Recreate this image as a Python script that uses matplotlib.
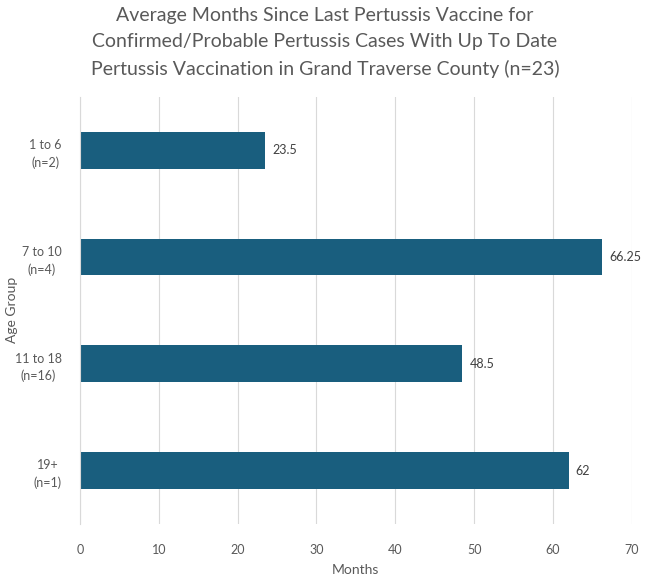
import matplotlib
matplotlib.use('Agg')
import matplotlib.pyplot as plt

# Data
groupes = ['1 to 6\n(n=2)', '7 to 10\n(n=4)', '11 to 18\n(n=16)', '19+\n(n=1)']
mois = [23.5, 66.25, 48.5, 62]
etiquettes = ['23.5', '66.25', '48.5', '62']
ticks_x = [0, 10, 20, 30, 40, 50, 60, 70]

bar_color = '#195E7E'
text_color = '#595959'
grid_color = '#D9D9D9'

plt.rcParams['font.family'] = ['Lato', 'DejaVu Sans']

fig = plt.figure(figsize=(6.5, 5.76), dpi=100)
ax = fig.add_axes([0.123, 0.09, 0.849, 0.742])

y = list(range(len(groupes)))
ax.barh(y, mois, height=0.345, color=bar_color, zorder=3)

for yi, v, lab in zip(y, mois, etiquettes):
    ax.text(v + 0.9, yi, lab, va='center', ha='left', fontsize=9, color='#404040')

ax.set_ylim(3.5, -0.5)
ax.set_xlim(0, 70)
ax.set_xticks(ticks_x)
ax.set_yticks(y)
ax.set_yticklabels(groupes, fontsize=9, color=text_color, ha='right')
ax.tick_params(axis='x', length=0, labelsize=9, labelcolor=text_color, pad=14)
ax.tick_params(axis='y', length=0, pad=13)
for lab in ax.get_yticklabels():
    lab.set_multialignment('center')
    lab.set_linespacing(1.5)

ax.xaxis.grid(True, color=grid_color, linewidth=0.8, zorder=0)
ax.set_axisbelow(True)
for s in ['top', 'right', 'bottom']:
    ax.spines[s].set_visible(False)
ax.spines['left'].set_color(grid_color)
ax.spines['left'].set_zorder(4)

ax.set_xlabel('Months', fontsize=10, color=text_color, labelpad=6)
fig.text(0.019, 0.462, 'Age Group', rotation=90, ha='center', va='center',
         fontsize=10, color=text_color)

fig.text(0.5, 0.988,
         'Average Months Since Last Pertussis Vaccine for\n'
         'Confirmed/Probable Pertussis Cases With Up To Date\n'
         'Pertussis Vaccination in Grand Traverse County (n=23)',
         ha='center', va='top', fontsize=14, color=text_color, linespacing=1.65)

fig.savefig('out.png', dpi=100)
